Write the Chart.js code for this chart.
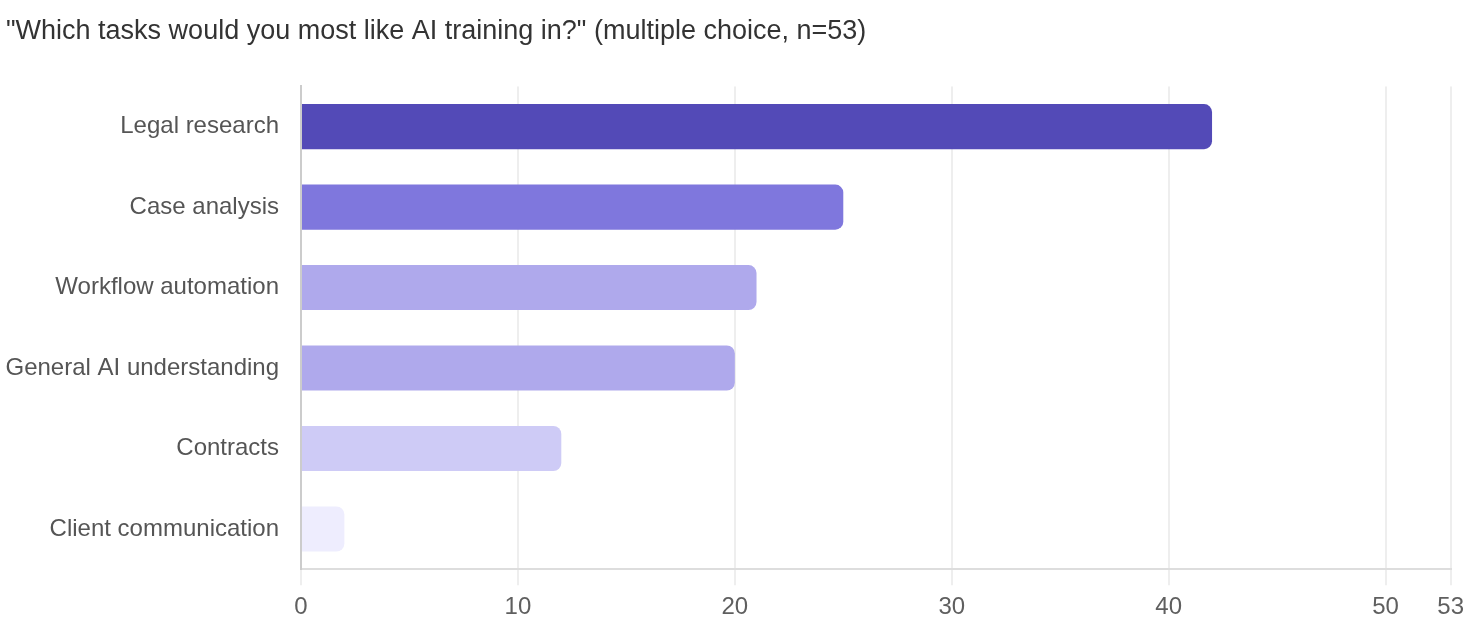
<!DOCTYPE html>
<html>
<head>
<meta charset="utf-8">
<script src="https://cdn.jsdelivr.net/npm/chart.js@4.4.1/dist/chart.umd.min.js"></script>
<style>
  html, body { margin: 0; padding: 0; background: #fff; }
  #wrap { width: 1472px; height: 642px; }
</style>
</head>
<body>
<div id="wrap"><canvas id="chart"></canvas></div>
<script>
// survey answers, counted per task
const tasks = ["Legal research", "Case analysis", "Workflow automation", "General AI understanding", "Contracts", "Client communication"];
const counts = [42, 25, 21, 20, 12, 2];
const barColors = ["#534AB7", "#7F77DD", "#AFA9EC", "#AFA9EC", "#CECBF6", "#EEEDFE"];
const xTicks = [0, 10, 20, 30, 40, 50, 53];
const titleText = "\"Which tasks would you most like AI training in?\" (multiple choice, n=53)";

const FONT = "'Liberation Sans', Arial, sans-serif";

const ctx = document.getElementById("chart").getContext("2d");

new Chart(ctx, {
    type: "bar",
    data: {
        labels: tasks,
        datasets: [{
            data: counts,
            backgroundColor: barColors,
            borderRadius: 8,
            barPercentage: 0.56,
            categoryPercentage: 1
        }]
    },
    options: {
        indexAxis: "y",
        responsive: true,
        maintainAspectRatio: false,
        animation: false,
        layout: { padding: { left: 6, right: 20, top: 0, bottom: 12 } },
        plugins: {
            legend: { display: false },
            tooltip: { enabled: false },
            title: {
                display: true,
                text: titleText,
                align: "start",
                color: "#333333",
                font: { family: FONT, size: 27, weight: "normal" },
                padding: { top: 15, bottom: 39 }
            }
        },
        scales: {
            x: {
                min: 0,
                max: 53,
                afterBuildTicks: (axis) => {
                    axis.ticks = xTicks.map(v => ({ value: v }));
                },
                grid: {
                    color: "#eeeeee",
                    lineWidth: 2,
                    tickLength: 16
                },
                border: { color: "#dddddd", width: 2 },
                ticks: {
                    color: "#5f5f5f",
                    padding: 8,
                    autoSkip: false,
                    maxRotation: 0,
                    font: { family: FONT, size: 24 }
                }
            },
            y: {
                afterFit: (axis) => { axis.width = 295; }, // labels take the room left of the axis
                grid: { display: false, drawTicks: false },
                border: { color: "#cccccc", width: 2 },
                ticks: {
                    color: "#555555",
                    padding: 22,
                    font: { family: FONT, size: 24 }
                }
            }
        }
    }
});
</script>
</body>
</html>
